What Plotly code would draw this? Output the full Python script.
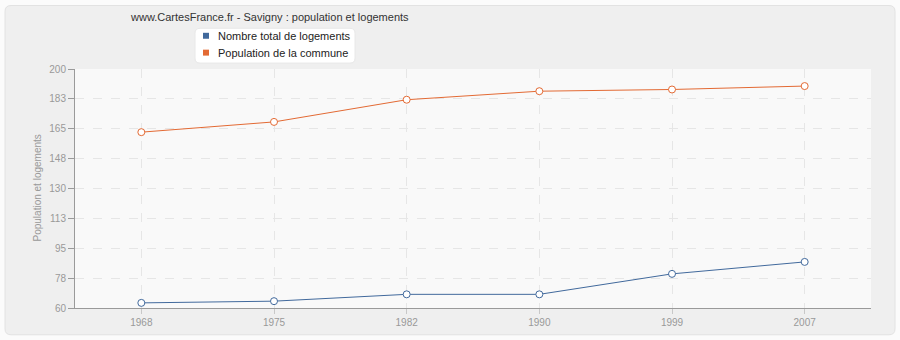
import plotly.graph_objects as go

years = ["1968", "1975", "1982", "1990", "1999", "2007"]
logements = [63, 64, 68, 68, 80, 87]
population = [163, 169, 182, 187, 188, 190]
ytick_vals = [60, 77.5, 95, 112.5, 130, 147.5, 165, 182.5, 200]
ytick_text = ["60", "78", "95", "113", "130", "148", "165", "183", "200"]
series_names = ["Nombre total de logements", "Population de la commune"]

blue = "#41699c"
orange = "#e36a34"
FONT = "Liberation Sans, Arial, sans-serif"

W, H = 900, 340
L, R, T, B = 75, 29, 69, 30
PW, PH = W - L - R, H - T - B


def px(x):
    return (x - L) / PW


def py(y):
    return (H - B - y) / PH


def rounded_rect(x0, y0, x1, y1, r):
    return (f"M {px(x0 + r)} {py(y0)} L {px(x1 - r)} {py(y0)} "
            f"Q {px(x1)} {py(y0)} {px(x1)} {py(y0 + r)} "
            f"L {px(x1)} {py(y1 - r)} Q {px(x1)} {py(y1)} {px(x1 - r)} {py(y1)} "
            f"L {px(x0 + r)} {py(y1)} Q {px(x0)} {py(y1)} {px(x0)} {py(y1 - r)} "
            f"L {px(x0)} {py(y0 + r)} Q {px(x0)} {py(y0)} {px(x0 + r)} {py(y0)} Z")


fig = go.Figure()
for name, vals, col in [(series_names[0], logements, blue),
                        (series_names[1], population, orange)]:
    fig.add_trace(go.Scatter(
        x=years, y=vals, mode="lines+markers", name=name, showlegend=False,
        line=dict(color=col, width=1),
        marker=dict(symbol="circle", size=7, color="white", line=dict(color=col, width=1)),
        cliponaxis=False,
    ))

shapes = [
    # outer panel
    dict(type="path", xref="paper", yref="paper", path=rounded_rect(5, 5, 895, 337, 6),
         fillcolor="#efefef", line=dict(color="#e2e2e2", width=1), layer="below"),
    # plot area background
    dict(type="rect", xref="paper", yref="paper", x0=0, x1=1, y0=0, y1=1,
         fillcolor="#f9f9f9", line=dict(width=0), layer="below"),
    # legend box
    dict(type="path", xref="paper", yref="paper", path=rounded_rect(195, 28, 355, 63, 5),
         fillcolor="white", line=dict(color="#e8e8e8", width=1), layer="above"),
]
annotations = [
    dict(text="www.CartesFrance.fr - Savigny : population et logements",
         xref="paper", yref="paper", x=px(128), y=py(17), xanchor="left", yanchor="middle",
         showarrow=False, font=dict(family=FONT, size=11, color="#333")),
    dict(text="Population et logements", xref="paper", yref="paper",
         x=px(37), y=0.5, textangle=-90, showarrow=False,
         xanchor="center", yanchor="middle",
         font=dict(family=FONT, size=10, color="#999")),
]
for i, (name, col) in enumerate(zip(series_names, [blue, orange])):
    cy = 35.5 + 17 * i
    shapes.append(dict(type="rect", xref="paper", yref="paper",
                       x0=px(203), x1=px(209), y0=py(cy - 3), y1=py(cy + 3),
                       fillcolor=col, line=dict(width=0), layer="above"))
    annotations.append(dict(text=name, xref="paper", yref="paper",
                            x=px(216), y=py(cy), xanchor="left", yanchor="middle",
                            showarrow=False, font=dict(family=FONT, size=11, color="#222")))

fig.update_layout(
    width=W, height=H,
    margin=dict(l=L, r=R, t=T, b=B),
    paper_bgcolor="#fbfbfb",
    plot_bgcolor="#f9f9f9",
    font=dict(family=FONT, size=10, color="#999"),
    showlegend=False,
    xaxis=dict(type="category", range=[-0.5, 5.5],
               showline=True, linecolor="#9a9a9a", linewidth=1,
               showgrid=True, gridcolor="#e6e6e6", griddash="dash",
               ticks="outside", ticklen=5, tickcolor="#c8c8c8",
               tickfont=dict(family=FONT, size=10, color="#999")),
    yaxis=dict(range=[60, 200], tickvals=ytick_vals, ticktext=ytick_text,
               showline=True, linecolor="#9a9a9a", linewidth=1,
               showgrid=True, gridcolor="#e6e6e6", griddash="dash",
               ticks="outside", ticklen=6, tickcolor="#9a9a9a",
               zeroline=False,
               tickfont=dict(family=FONT, size=10, color="#999")),
    shapes=shapes,
    annotations=annotations,
)

fig.write_html("out.html")
